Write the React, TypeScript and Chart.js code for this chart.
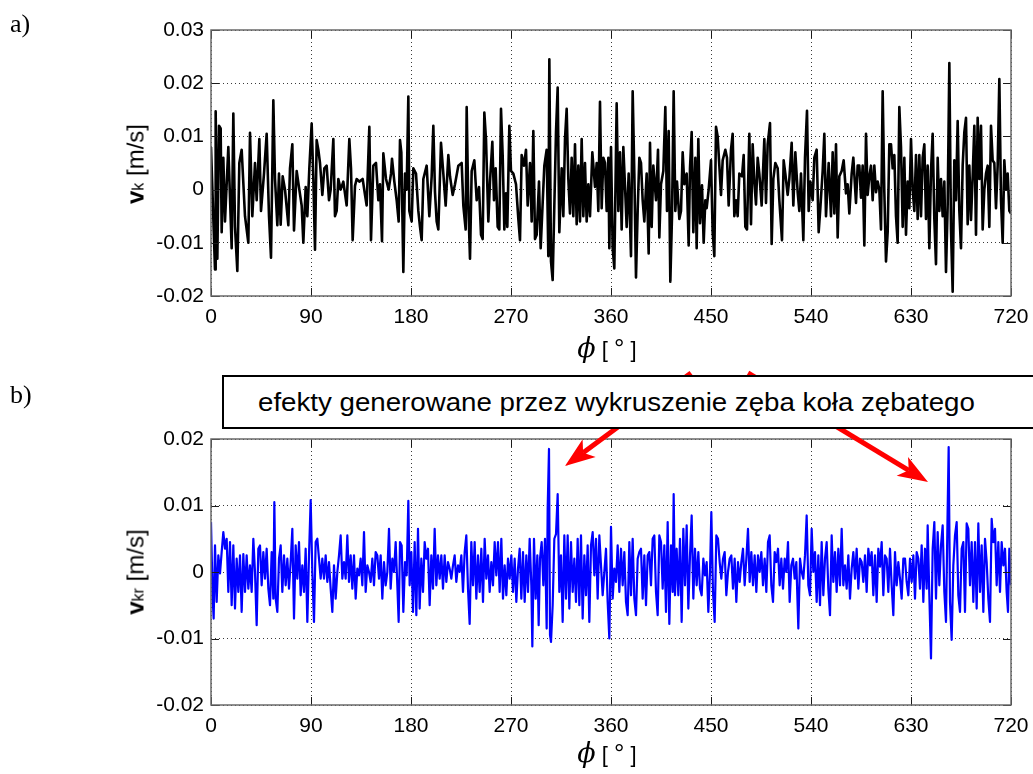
import React, { useEffect, useRef } from "react";
import { Chart, registerables } from "chart.js";

Chart.register(...registerables);

// ---------- data ----------
const angleTicks = [0, 90, 180, 270, 360, 450, 540, 630, 720];
const vkTicks = [-0.02, -0.01, 0, 0.01, 0.02, 0.03];
const vkrTicks = [-0.02, -0.01, 0, 0.01, 0.02];

// panel a) v_k [m/s] vs angle [deg]
const vkAngles = [
  0, 3.6, 4.2, 5.7, 7.2, 8.7, 9.6, 11.1, 12.6, 15.6,
  18.6, 20.1, 21.6, 23.7, 25.5, 27.6, 30.6, 33.6, 35.1, 37.2,
  39.6, 41.1, 43.5, 45, 47.7, 50.1, 52.2, 54, 56.1, 57.6,
  59.7, 61.2, 62.7, 64.5, 66.6, 69.6, 71.1, 73.2, 74.7, 77.1,
  79.5, 81.6, 83.1, 85.2, 86.7, 88.5, 90.6, 92.1, 93.6, 95.1,
  96.6, 98.1, 100.2, 102, 104.1, 106.2, 107.7, 110.1, 111.6, 113.1,
  114.6, 116.7, 119.1, 122.1, 124.5, 126, 127.5, 129.6, 131.1, 133.5,
  136.5, 138.6, 140.1, 142.5, 144, 146.1, 148.5, 150.6, 152.1, 153.9,
  155.1, 157.5, 159.9, 162, 162.9, 165, 167.1, 168.9, 170.1, 171.3,
  173.1, 174.6, 176.1, 177.6, 178.5, 180.6, 182.1, 184.5, 186.6, 188.1,
  189.6, 191.1, 194.1, 196.5, 198.6, 200.1, 201.6, 203.1, 204.6, 207,
  209.1, 211.2, 213.6, 215.1, 217.5, 219.6, 222.6, 225.6, 227.1, 229.2,
  230.1, 231.6, 233.1, 234.6, 237, 239.1, 241.2, 243, 244.5, 246,
  247.5, 249.6, 251.1, 253.2, 254.7, 256.2, 258, 259.5, 261, 262.5,
  264, 265.5, 266.7, 268.5, 270, 272.1, 274.5, 276.6, 278.1, 279.6,
  281.7, 283.5, 285, 287.1, 288.6, 290.1, 291.6, 293.1, 295.2, 296.7,
  298.5, 300, 302.1, 303.6, 304.5, 306, 307.5, 309, 310.5, 312,
  313.5, 315.6, 317.1, 318.6, 320.1, 321.6, 323.1, 324.6, 326.1, 327.6,
  329.1, 330.6, 332.1, 333.6, 335.1, 336.6, 338.1, 339.6, 341.1, 343.2,
  345.6, 347.1, 348.6, 350.1, 351.6, 353.1, 354.6, 356.1, 357.6, 358.5,
  360, 361.5, 363, 365.1, 366.6, 368.1, 369.6, 371.1, 372.6, 374.1,
  375.9, 378, 379.5, 381, 382.5, 384, 385.5, 387, 388.5, 390,
  392.1, 393.9, 395.1, 396.6, 398.1, 400.5, 402.3, 403.5, 405, 407.1,
  408.9, 410.4, 411.9, 413.4, 414.9, 416.4, 417.9, 419.4, 421.5, 423,
  424.5, 426, 428.1, 429.9, 431.1, 432.6, 434.1, 435.9, 437.1, 438.6,
  440.1, 441.9, 443.4, 444.9, 446.1, 447.9, 450, 451.5, 453, 454.5,
  456, 457.5, 459, 460.5, 462.9, 464.4, 465.9, 468, 469.5, 471,
  472.5, 474, 475.5, 477.9, 479.4, 480.9, 482.4, 484.5, 486, 487.5,
  489, 490.5, 492, 493.5, 495.6, 498, 499.5, 501, 503.1, 504.6,
  506.1, 507.9, 510, 511.5, 513.9, 515.4, 516.9, 519, 520.5, 522.6,
  524.1, 525.9, 528, 529.5, 531, 533.1, 534.6, 536.4, 537.9, 539.4,
  541.5, 543, 545.1, 546.9, 548.4, 550.5, 552, 553.5, 555.9, 558,
  559.5, 561, 562.5, 564, 565.5, 567.6, 569.4, 571.5, 573, 574.5,
  576.6, 578.1, 580.5, 582, 583.5, 585, 586.5, 588, 589.5, 591,
  592.5, 594, 595.5, 597, 598.5, 600, 601.5, 603, 604.5, 606,
  607.5, 609, 610.5, 612, 613.5, 615, 616.5, 618, 619.5, 621,
  622.5, 624, 625.5, 627, 628.5, 630, 631.5, 633, 634.5, 636,
  637.5, 639, 640.5, 642, 643.5, 645, 646.5, 648, 649.5, 651,
  652.5, 654, 655.5, 657, 658.5, 660, 661.5, 663, 664.5, 666,
  667.5, 669, 670.5, 672, 673.5, 675, 676.5, 678, 679.5, 681,
  682.5, 684, 685.5, 687, 688.5, 690, 691.5, 693, 694.5, 696,
  697.5, 699, 700.5, 702, 703.5, 705, 706.5, 708, 709.5, 711,
  712.5, 714, 715.5, 717, 718.5, 720,
];
const vkValues = [
  0.008, -0.015, 0.0147, -0.013, 0.012, 0.0115, -0.008, 0.006, -0.006, 0.008,
  -0.011, 0.0143, -0.007, -0.0153, 0.005, 0.0075, -0.005, -0.01, 0.0107, -0.005,
  0.005, -0.002, 0.0095, -0.004, 0.003, 0.0105, -0.005, -0.0128, 0.0168, 0.002,
  -0.0067, 0.003, -0.0066, 0.0025, 0, -0.0067, 0.004, 0.0085, -0.0077, 0.0035,
  0, -0.003, -0.01, 0.0005, -0.005, 0.004, 0.0124, 0.002, -0.0113, 0.0093,
  0.0075, 0.005, -0.001, 0.004, 0.0045, -0.002, 0, 0.0095, -0.005, -0.004,
  0.002, 0, 0.0015, -0.003, 0.0095, 0.004, -0.0095, 0.0007, 0.002, 0.0015,
  0.002, -0.001, -0.003, 0.0118, -0.0095, 0.0045, 0.005, -0.002, 0.001, -0.0097,
  0.0068, 0.002, 0, 0.003, 0.0058, 0.0015, -0.002, -0.006, 0.0093, 0.007,
  -0.0155, 0.003, 0, 0.0175, -0.004, -0.006, 0.004, 0.003, -0.004, -0.007,
  -0.0095, 0.002, 0.0045, -0.005, 0.0025, 0.012, -0.0005, -0.006, -0.0075, 0.0088,
  0.003, -0.003, 0.0065, 0.0025, -0.001, 0.001, 0.0045, 0.005, -0.003, -0.0075,
  0.0155, -0.003, -0.013, 0.0035, 0.0055, -0.002, 0.0005, -0.0085, -0.0093, 0.0145,
  0.0095, -0.006, 0.0015, 0.009, -0.002, 0.004, -0.007, -0.0075, 0.0152, 0.0065,
  -0.0075, -0.0007, -0.007, 0.012, 0.0035, 0.003, 0.001, -0.0055, -0.0095, 0.0065,
  0.0045, 0.0075, -0.003, 0.005, -0.006, 0.011, -0.0093, -0.0085, 0.0015, -0.011,
  -0.0025, 0.0045, 0.0075, -0.0125, 0.0245, -0.0135, -0.017, -0.003, 0.0108, 0.0192,
  -0.008, 0.004, -0.005, 0.0095, 0.0152, 0.002, -0.0045, 0.006, -0.005, 0.0085,
  -0.0065, 0.0045, -0.006, 0.0095, -0.005, 0.005, -0.006, 0.001, -0.005, 0.007,
  0.0005, 0.005, -0.004, 0.0165, -0.0035, 0.006, 0.005, -0.004, 0.006, -0.011,
  0.008, -0.011, -0.0148, 0.0162, -0.004, 0.007, -0.0075, 0.008, 0.0007, -0.007,
  0.003, -0.0125, 0.0185, 0.003, -0.0165, -0.004, 0.006, 0.005, -0.002, -0.006,
  0.003, -0.012, 0.0088, -0.007, 0.0045, -0.002, 0.0075, -0.009, 0.001, 0.0035,
  0.0155, -0.004, 0.011, -0.0173, -0.005, 0.0185, -0.004, 0.0015, -0.0055, -0.004,
  0.007, 0.001, 0.003, -0.0105, 0.004, 0.0108, -0.008, 0.006, -0.011, 0.0095,
  -0.0063, 0.0008, -0.01, -0.002, -0.0035, 0, 0.0055, -0.008, -0.0125, 0.0118,
  0.01, 0.0045, -0.001, 0.0055, 0.0075, 0.006, -0.003, 0.0075, 0.0105, -0.005,
  -0.002, -0.005, 0.003, 0.0025, 0.0065, -0.007, -0.0075, 0.0105, -0.0065, 0.0085,
  0.0015, -0.0028, 0.006, 0.003, -0.003, 0.0095, -0.0025, 0.0085, 0.0125, -0.0102,
  0.002, 0.005, 0.004, -0.002, -0.0095, 0.0055, 0.003, -0.001, 0.002, 0.0088,
  -0.003, 0.007, -0.0005, -0.004, 0.003, -0.0095, 0.006, 0.0148, -0.004, 0.0015,
  -0.002, 0.006, 0.0075, -0.008, -0.0035, 0.0035, 0.0105, -0.005, 0.005, -0.005,
  0.007, -0.0045, 0.0085, -0.009, 0.0025, 0.0035, 0.0055, -0.0007, 0.001, -0.0045,
  0.003, 0.006, -0.0025, 0.0045, 0.0045, -0.0015, 0.0045, -0.0105, 0.0105, -0.001,
  0.0025, 0.0045, -0.002, 0.0045, -0.0005, 0.0015, 0, -0.0075, 0.0185, -0.0005,
  -0.0135, -0.008, 0.0085, 0.0085, 0.004, 0.0065, -0.005, -0.01, 0.0155, 0.008,
  -0.007, 0.006, -0.0085, 0.0015, -0.0035, 0.0095, 0, -0.004, 0.0065, -0.0055,
  0.0065, -0.005, 0.006, 0.0085, -0.0055, 0.0045, -0.011, 0.0035, 0.0105, -0.0055,
  -0.014, 0.006, -0.004, 0.002, -0.005, 0.0015, -0.0155, -0.003, 0.0238, -0.0075,
  -0.0192, 0.0055, -0.002, 0.0129, -0.004, -0.011, 0.0045, 0.0108, 0.0135, -0.0065,
  0.0045, -0.0057, 0.0025, 0.012, -0.0085, 0.0135, 0.002, 0.012, -0.0075, 0,
  0.003, 0.0045, -0.007, 0.012, 0.0055, 0.005, -0.0035, 0.0045, 0.0208, -0.002,
  -0.01, 0.0055, 0, 0.003, -0.004, -0.0045,
];

// panel b) v_kr [m/s] vs angle [deg]
const vkrAngles = [
  0, 1.5, 2.4, 3.6, 5.1, 6.6, 8.1, 9.6, 11.1, 12.6,
  14.1, 15.6, 17.1, 18.6, 20.1, 21.6, 23.1, 24.6, 26.1, 27.6,
  29.1, 30.6, 32.1, 33.6, 35.1, 36.6, 38.1, 39.6, 41.1, 42.6,
  44.1, 45.6, 47.1, 48.6, 50.1, 51.6, 53.1, 54.6, 56.1, 57,
  58.2, 59.7, 61.2, 62.7, 64.2, 65.7, 67.2, 68.7, 70.2, 71.7,
  73.2, 74.7, 76.2, 77.7, 79.2, 80.7, 82.2, 83.7, 85.2, 86.7,
  88.2, 89.7, 91.2, 92.7, 94.2, 95.7, 97.2, 98.7, 100.2, 101.7,
  103.2, 104.7, 106.2, 107.7, 109.2, 110.7, 112.2, 113.7, 115.2, 116.7,
  118.2, 119.7, 121.2, 122.7, 124.2, 125.7, 127.2, 128.7, 130.2, 131.7,
  133.2, 134.7, 136.2, 137.7, 139.2, 140.7, 142.2, 143.7, 145.2, 146.7,
  148.2, 149.7, 151.2, 152.7, 154.2, 155.7, 157.2, 158.7, 160.2, 161.7,
  163.2, 164.7, 166.2, 167.7, 168.9, 170.1, 171.6, 173.1, 174.6, 176.1,
  177.6, 178.8, 180.3, 181.8, 183.3, 184.8, 186.3, 187.8, 189.3, 190.8,
  192.3, 193.8, 195.3, 196.8, 198.3, 199.8, 201.3, 202.8, 204.3, 205.8,
  207.3, 208.8, 210.3, 211.8, 213.3, 214.8, 216.3, 217.8, 219.3, 220.8,
  222.3, 223.8, 225.3, 226.8, 228.3, 229.8, 231.3, 232.8, 234.3, 235.8,
  237.3, 238.8, 240.3, 241.8, 243.3, 244.8, 246.3, 247.8, 249.3, 250.8,
  252.3, 253.8, 255.3, 256.8, 258.3, 259.8, 261.3, 262.8, 264.3, 265.8,
  267.3, 268.8, 270.3, 271.8, 273.3, 274.8, 276.3, 277.8, 279.3, 280.8,
  282.3, 283.8, 285.3, 286.8, 288.3, 289.2, 290.7, 292.2, 293.7, 294.9,
  296.1, 297.6, 299.1, 300.6, 302.1, 303, 304.2, 305.1, 306, 307.5,
  309, 310.5, 312, 313.5, 315, 316.5, 318, 319.5, 321, 322.5,
  324, 325.5, 327, 328.5, 330, 331.5, 333, 334.5, 336, 337.5,
  339, 340.5, 342, 343.5, 345, 346.5, 348, 349.5, 352.5, 355.5,
  357, 358.5, 360, 361.5, 363, 364.5, 366, 367.5, 369, 370.5,
  372, 373.5, 375, 376.5, 378, 379.5, 381, 382.5, 384, 385.5,
  387, 388.5, 390, 391.5, 393, 394.5, 396, 397.5, 399, 400.5,
  402, 403.5, 405, 406.5, 408, 409.5, 411, 412.5, 414, 415.5,
  416.4, 417.6, 419.1, 420.6, 422.1, 423.6, 425.1, 426.6, 428.1, 429.6,
  431.1, 432.6, 434.1, 435.6, 437.1, 438.6, 440.1, 441.6, 443.1, 444.6,
  446.1, 447.6, 449.1, 450.3, 451.8, 453.3, 454.8, 456.3, 457.8, 459.3,
  460.8, 462.3, 463.8, 465.3, 466.8, 468.3, 469.8, 471.3, 472.8, 474.3,
  475.8, 477.3, 478.8, 480.3, 481.8, 483.3, 484.8, 486.3, 487.8, 489.3,
  490.8, 492.3, 493.8, 495.3, 496.8, 498.3, 499.8, 501.3, 502.8, 504.3,
  505.8, 507.3, 508.8, 510.3, 511.8, 513.3, 514.8, 516.3, 517.8, 519.3,
  520.8, 522.3, 523.8, 525.3, 526.8, 528.6, 530.1, 531.6, 533.1, 534.6,
  536.1, 537.6, 539.1, 540.6, 542.1, 543.6, 545.1, 546.6, 548.1, 549.6,
  551.1, 552.6, 554.1, 555.6, 557.1, 558.6, 560.1, 561.6, 563.1, 564.6,
  566.1, 567.6, 569.1, 570.6, 572.1, 573.6, 575.1, 576.6, 578.1, 579.6,
  581.1, 582.6, 584.1, 585.6, 587.1, 588.6, 590.1, 591.6, 593.1, 594.6,
  596.1, 597.6, 599.1, 600.6, 602.1, 603.6, 605.1, 606.6, 608.1, 609.6,
  611.1, 612.6, 614.1, 615.6, 617.1, 618.6, 620.1, 621.6, 623.1, 624.6,
  626.1, 627.6, 629.1, 630.6, 632.1, 633.6, 635.1, 636.6, 638.1, 639.6,
  641.1, 642.6, 644.1, 645, 646.5, 648, 649.5, 651, 652.5, 654,
  655.5, 657, 658.5, 660, 661.5, 663, 663.9, 665.1, 666.6, 668.1,
  669.6, 671.1, 672.6, 674.1, 675.6, 677.1, 678.6, 680.1, 681.6, 683.1,
  684.6, 686.1, 687.6, 689.1, 690.6, 692.1, 693.6, 695.1, 696.6, 698.1,
  699.6, 701.1, 702.6, 704.1, 705.6, 707.1, 708.6, 710.1, 711.6, 713.1,
  714.6, 716.1, 717.3, 718.5, 720,
];
const vkrValues = [
  0.0075, -0.004, -0.007, 0.004, -0.0045, 0.0025, -0.0002, 0.003, 0.006, 0.0035,
  0.005, -0.003, 0.0045, -0.005, 0.004, -0.0055, 0.002, -0.003, 0.0025, -0.006,
  0.0027, -0.003, 0.0025, -0.0025, 0.001, -0.003, 0.005, 0, -0.008, 0.0035,
  0.004, -0.002, 0.003, -0.001, 0.0035, -0.0025, -0.005, 0.003, -0.004, 0.0105,
  -0.004, -0.006, 0.002, 0.004, -0.003, 0.0025, -0.002, 0.002, -0.0025, 0.0015,
  0.0065, -0.007, 0.004, -0.001, 0.0045, -0.0035, 0.001, -0.003, 0.0035, -0.0075,
  0.0025, 0.0108, 0, -0.0075, 0.0045, 0.005, 0.002, -0.001, 0.002, -0.001,
  0.0025, -0.0015, 0.0015, -0.0025, -0.006, 0.001, -0.004, 0, 0.0025, 0.0055,
  -0.001, 0.0015, -0.001, 0.0055, -0.0015, 0.0025, -0.0025, 0.0025, -0.004, 0.0005,
  -0.0005, 0.002, -0.002, 0.006, -0.003, 0.001, 0, -0.0015, 0.002, -0.002,
  0.003, 0.0025, -0.001, 0.0025, -0.004, 0.0015, -0.002, 0, 0.0065, -0.0025,
  0.002, 0, 0.0045, -0.002, -0.0075, 0.0045, 0.004, -0.006, 0.0015, -0.0005,
  0.0107, -0.002, 0.003, -0.006, 0.0045, -0.0065, 0.0065, -0.0055, 0.002, -0.003,
  0.0045, 0.002, 0.0035, -0.005, 0.0025, -0.0025, 0.0065, -0.002, 0.0025, -0.001,
  0.0025, -0.0025, 0.0025, -0.0015, 0.0015, 0.0005, -0.001, 0.001, 0.0025, -0.0015,
  0.001, 0, 0.0025, -0.003, 0.003, 0.0055, -0.0025, -0.0078, 0.0045, -0.002,
  0.0045, -0.004, 0.0025, -0.003, 0.0035, -0.0045, 0.005, -0.001, 0.0025, -0.003,
  0.0015, -0.002, 0.0045, -0.0005, 0.0045, -0.003, 0.005, -0.004, 0.001, -0.0035,
  0.002, -0.001, 0.0025, -0.003, 0.002, -0.0045, 0.0005, 0.0035, -0.004, 0.003,
  -0.0045, 0.0025, -0.003, 0.005, -0.002, -0.0112, 0.005, -0.004, 0.0025, -0.008,
  0.002, 0.0045, -0.002, 0.005, -0.0085, 0.0095, 0.0185, -0.0095, -0.0105, -0.005,
  0.005, 0.0057, 0.0117, -0.003, 0.0025, -0.0075, 0.0055, -0.004, 0.0055, -0.0055,
  0.0045, -0.003, 0.002, -0.0045, 0.005, -0.005, 0.0055, -0.007, 0.0025, -0.0035,
  0.004, -0.0075, 0.004, 0.006, -0.0005, 0.005, -0.004, 0.0055, -0.0035, 0.0035,
  -0.0045, -0.01, 0.0068, -0.004, 0.0005, -0.0015, 0.004, -0.003, 0.0035, -0.002,
  0.003, -0.0045, -0.0065, 0.0045, -0.0035, 0.005, -0.004, -0.0065, 0.002, 0.003,
  0.0035, -0.004, 0.0025, -0.005, 0.0025, 0.003, -0.002, 0.005, 0.0055, -0.003,
  -0.0065, 0.0055, 0.0045, -0.0025, 0.004, -0.006, 0.0075, -0.0078, 0.004, -0.003,
  0.0117, -0.0035, 0.0035, -0.0035, 0.005, -0.0075, 0.0065, -0.002, 0.007, -0.0055,
  0.0025, 0.0085, -0.004, 0.0035, -0.002, 0.003, -0.0025, -0.0035, 0.002, -0.0005,
  0.0015, -0.006, 0, 0.009, -0.003, -0.0075, 0.0055, 0.005, 0.0015, -0.001,
  0.002, 0.003, -0.0035, 0, 0.002, 0.0025, -0.0025, 0.002, -0.0045, 0.0015,
  -0.0015, 0.0015, 0.0035, -0.002, 0.002, 0.0065, -0.0015, 0.003, -0.002, 0.0025,
  -0.003, 0.0025, 0, 0.003, -0.002, 0.002, -0.003, 0.0045, 0.0055, -0.002,
  -0.0045, 0.003, 0.0015, 0.0035, -0.002, 0.002, -0.0025, 0.002, 0, 0.0045,
  -0.0045, 0.001, 0.002, -0.001, 0.0015, -0.0085, 0.002, 0, -0.001, 0.0025,
  0.0085, -0.002, -0.0035, 0.0065, 0, 0.003, -0.0045, 0.0025, -0.005, 0.0045,
  -0.0035, 0.002, 0.0045, -0.0025, -0.0065, 0.0055, -0.0015, 0.003, -0.003, 0.0035,
  -0.002, 0.0065, -0.002, 0.001, -0.0025, 0.0025, -0.004, 0.0005, 0.003, -0.001,
  0.0035, -0.0025, 0.002, 0.0015, -0.0015, 0.0025, -0.003, 0.0035, 0.001, 0.003,
  -0.0035, 0.0025, -0.0045, 0.0035, 0.0008, 0.0045, -0.0035, 0.0025, 0.002, -0.003,
  0.0035, -0.002, -0.0065, 0.003, -0.002, 0.0015, -0.001, -0.004, 0.002, 0.002,
  -0.0015, -0.0035, 0.002, -0.0015, 0.0025, -0.004, 0.003, 0.002, -0.0025, 0.004,
  -0.0045, 0.0035, -0.0025, 0.007, -0.0035, -0.013, 0.0035, 0.0075, -0.004, 0.006,
  -0.002, 0.004, 0.007, -0.003, -0.0075, 0.0095, 0.0188, -0.0045, -0.0102, 0.001,
  0.0055, 0.0075, -0.0035, -0.006, 0.0035, 0.0045, -0.006, 0.0073, 0.0065, -0.002,
  0.0045, -0.0045, 0.0045, -0.0055, 0.0073, -0.003, 0.004, -0.006, 0.005, 0.0015,
  -0.004, -0.0075, 0.008, 0.0045, 0.0065, -0.002, 0.0045, -0.003, 0.0045, 0.001,
  0.0035, -0.003, -0.006, 0.0035, -0.002,
];

// ---------- styling ----------
const SANS = '"Liberation Sans", Arial, Helvetica, sans-serif';
const TICK_FONT = { family: SANS, size: 21 };

const fmtV = (v: number) => (Math.abs(v) < 1e-9 ? "0" : v.toFixed(2));

const matlabFrame = {
  id: "matlabFrame",
  afterDatasetsDraw(chart: any) {
    const { ctx, chartArea: a, scales } = chart;
    const len = 8;
    ctx.save();
    ctx.strokeStyle = "#1a1a1a";
    ctx.lineWidth = 1;
    ctx.beginPath();
    scales.x.ticks.forEach((t: any) => {
      const px = Math.round(scales.x.getPixelForValue(t.value)) + 0.5;
      ctx.moveTo(px, a.bottom);
      ctx.lineTo(px, a.bottom - len);
      ctx.moveTo(px, a.top);
      ctx.lineTo(px, a.top + len);
    });
    scales.y.ticks.forEach((t: any) => {
      const py = Math.round(scales.y.getPixelForValue(t.value)) + 0.5;
      ctx.moveTo(a.left, py);
      ctx.lineTo(a.left + len, py);
      ctx.moveTo(a.right, py);
      ctx.lineTo(a.right - len, py);
    });
    ctx.stroke();
    ctx.strokeStyle = "#6a6a6a";
    ctx.lineWidth = 1.5;
    ctx.strokeRect(a.left, a.top, a.right - a.left, a.bottom - a.top);
    ctx.restore();
  },
};

function makeChart(
  canvas: HTMLCanvasElement,
  angles: number[],
  values: number[],
  color: string,
  lineWidth: number,
  yTicks: number[],
  padTop: number,
  xAxisHeight: number
) {
  return new Chart(canvas, {
    type: "line",
    data: {
      datasets: [
        {
          data: angles.map((x, i) => ({ x, y: values[i] })),
          borderColor: color,
          borderWidth: lineWidth,
          pointRadius: 0,
          tension: 0,
          borderJoinStyle: "round",
          fill: false,
        } as any,
      ],
    },
    options: {
      animation: false,
      responsive: false,
      devicePixelRatio: 1,
      events: [],
      layout: { padding: { top: padTop, right: 22, bottom: 0, left: 0 } },
      plugins: { legend: { display: false }, tooltip: { enabled: false } },
      scales: {
        x: {
          type: "linear",
          min: 0,
          max: 720,
          afterBuildTicks: (s: any) => {
            s.ticks = angleTicks.map((v) => ({ value: v }));
          },
          afterFit: (s: any) => {
            s.height = xAxisHeight;
            s.paddingLeft = 0;
            s.paddingRight = 0;
          },
          ticks: {
            font: TICK_FONT,
            color: "#000",
            padding: 9,
            maxRotation: 0,
            autoSkip: false,
            callback: (v: any) => String(v),
          },
          grid: { color: "#3a3a3a", lineWidth: 1, drawTicks: false },
          border: { display: false, dash: [1, 3] },
        },
        y: {
          type: "linear",
          min: yTicks[0],
          max: yTicks[yTicks.length - 1],
          afterBuildTicks: (s: any) => {
            s.ticks = yTicks.map((v) => ({ value: v }));
          },
          afterFit: (s: any) => {
            s.width = 211;
            s.paddingTop = 0;
            s.paddingBottom = 0;
          },
          ticks: {
            font: TICK_FONT,
            color: "#000",
            padding: 7,
            autoSkip: false,
            callback: (v: any) => fmtV(Number(v)),
          },
          grid: { color: "#3a3a3a", lineWidth: 1, drawTicks: false },
          border: { display: false, dash: [1, 3] },
        },
      },
    } as any,
    plugins: [matlabFrame],
  });
}

// annotation arrows (tail -> tip), page pixels
const ARROWS = [
  { x1: 691, y1: 373, x2: 565, y2: 466 },
  { x1: 748, y1: 373, x2: 928, y2: 482 },
];

function Arrow({ x1, y1, x2, y2 }: { x1: number; y1: number; x2: number; y2: number }) {
  const headLen = 30;
  const headW = 22;
  const dx = x2 - x1;
  const dy = y2 - y1;
  const L = Math.hypot(dx, dy);
  const ux = dx / L;
  const uy = dy / L;
  const bx = x2 - ux * headLen;
  const by = y2 - uy * headLen;
  const nx = bx + ux * headLen * 0.25;
  const ny = by + uy * headLen * 0.25;
  const px = (-uy * headW) / 2;
  const py = (ux * headW) / 2;
  return (
    <g>
      <line x1={x1} y1={y1} x2={nx} y2={ny} stroke="#ff0000" strokeWidth={5} />
      <polygon
        points={`${x2},${y2} ${bx + px},${by + py} ${nx},${ny} ${bx - px},${by - py}`}
        fill="#ff0000"
      />
    </g>
  );
}

function XTitle({ top }: { top: number }) {
  return (
    <div
      style={{
        position: "absolute",
        left: 607,
        top,
        transform: "translateX(-50%)",
        whiteSpace: "nowrap",
        lineHeight: "30px",
        fontFamily: SANS,
        fontSize: 22,
        color: "#000",
        zIndex: 3,
      }}
    >
      <span style={{ fontFamily: '"DejaVu Serif", "Liberation Serif", serif', fontStyle: "italic", fontSize: 27 }}>ϕ</span>
      <span> [ </span>
      <span style={{ fontSize: 26 }}>°</span>
      <span> ]</span>
    </div>
  );
}

function YTitle({ cx, cy, sub }: { cx: number; cy: number; sub: string }) {
  return (
    <div
      style={{
        position: "absolute",
        left: cx,
        top: cy,
        transform: "translate(-50%, -50%) rotate(-90deg)",
        whiteSpace: "nowrap",
        fontFamily: SANS,
        fontSize: 24,
        lineHeight: "28px",
        color: "#000",
        zIndex: 3,
      }}
    >
      <span style={{ fontWeight: "bold" }}>v</span>
      <span style={{ fontSize: 16 }}>{sub}</span>
      <span> [m/s]</span>
    </div>
  );
}

export default function App() {
  const topRef = useRef<HTMLCanvasElement>(null);
  const botRef = useRef<HTMLCanvasElement>(null);

  useEffect(() => {
    const c1 = makeChart(topRef.current!, vkAngles, vkValues, "#000000", 2.6, vkTicks, 30, 34);
    const c2 = makeChart(botRef.current!, vkrAngles, vkrValues, "#0000ff", 2.2, vkrTicks, 39, 55);
    return () => {
      c1.destroy();
      c2.destroy();
    };
  }, []);

  return (
    <div
      style={{
        position: "absolute",
        left: 0,
        top: 0,
        width: 1033,
        height: 774,
        overflow: "hidden",
        background: "#fff",
      }}
    >
      <canvas
        ref={topRef}
        width={1033}
        height={330}
        style={{ position: "absolute", left: 0, top: 0, width: 1033, height: 330, zIndex: 0 }}
      />
      <canvas
        ref={botRef}
        width={1033}
        height={360}
        style={{ position: "absolute", left: 0, top: 400, width: 1033, height: 360, zIndex: 0 }}
      />
      <svg
        width={1033}
        height={774}
        style={{ position: "absolute", left: 0, top: 0, zIndex: 1, pointerEvents: "none" }}
      >
        {ARROWS.map((a, i) => (
          <Arrow key={i} {...a} />
        ))}
      </svg>
      <div
        style={{
          position: "absolute",
          left: 222,
          top: 375,
          width: 880,
          height: 54,
          boxSizing: "border-box",
          border: "2px solid #000",
          background: "#fff",
          zIndex: 2,
        }}
      >
        <span
          style={{
            position: "absolute",
            left: 34,
            top: 0,
            lineHeight: "50px",
            fontFamily: SANS,
            fontSize: 25,
            whiteSpace: "nowrap",
            color: "#000",
            transform: "scaleX(1.107)",
            transformOrigin: "left center",
          }}
        >
          efekty generowane przez wykruszenie zęba koła zębatego
        </span>
      </div>
      <div
        style={{
          position: "absolute",
          left: 10,
          top: 11,
          fontFamily: '"Liberation Serif", "Times New Roman", serif',
          fontSize: 26,
          lineHeight: "26px",
          zIndex: 3,
        }}
      >
        a)
      </div>
      <div
        style={{
          position: "absolute",
          left: 10,
          top: 382,
          fontFamily: '"Liberation Serif", "Times New Roman", serif',
          fontSize: 26,
          lineHeight: "26px",
          zIndex: 3,
        }}
      >
        b)
      </div>
      <YTitle cx={137} cy={164} sub="k" />
      <YTitle cx={137} cy={572} sub="kr" />
      <XTitle top={333} />
      <XTitle top={738} />
    </div>
  );
}
